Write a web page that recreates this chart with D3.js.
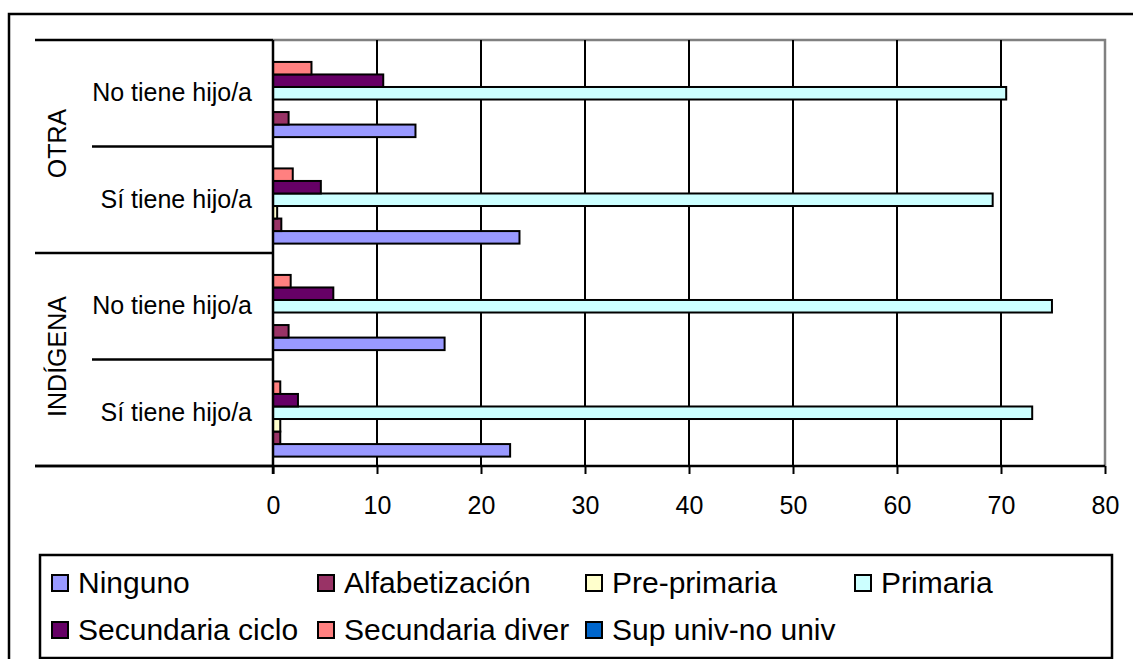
<!DOCTYPE html>
<html lang="es">
<head>
    <meta charset="UTF-8">
    <title>Nivel educativo por etnia y maternidad</title>
    <script src="https://d3js.org/d3.v7.min.js"></script>
    <style>
        body { margin: 0; background: #fff; }
        svg { display: block; font-family: "Liberation Sans", Arial, sans-serif; }
        .grid line { stroke: #000; stroke-width: 2; }
        .bar { stroke: #000; stroke-width: 2; }
        .cat-label { font-size: 25px; fill: #000; }
        .tick-label { font-size: 25px; fill: #000; }
        .legend-label { font-size: 30px; fill: #000; }
    </style>
</head>
<body>
<svg width="1133" height="659"></svg>
<script>
    // filas de arriba hacia abajo
    const groups = ["OTRA", "INDÍGENA"];
    const subcats = ["No tiene hijo/a", "Sí tiene hijo/a"];
    const rows = ["OTRA|No tiene hijo/a", "OTRA|Sí tiene hijo/a", "INDÍGENA|No tiene hijo/a", "INDÍGENA|Sí tiene hijo/a"];

    const series = ["Ninguno", "Alfabetización", "Pre-primaria", "Primaria", "Secundaria ciclo", "Secundaria diver", "Sup univ-no univ"];
    const colors = ["#9999FF", "#993366", "#FFFFCC", "#CCFFFF", "#660066", "#FF8080", "#0066CC"];

    // valores por serie, en el orden de rows
    const ninguno      = [13.7, 23.7, 16.5, 22.8];
    const alfabet      = [1.5, 0.8, 1.5, 0.7];
    const preprimaria  = [0, 0.4, 0, 0.7];
    const primaria     = [70.5, 69.2, 74.9, 73.0];
    const secCiclo     = [10.6, 4.6, 5.8, 2.4];
    const secDiver     = [3.7, 1.9, 1.7, 0.7];
    const supUniv      = [0, 0, 0, 0];

    const xTicks = [0, 10, 20, 30, 40, 50, 60, 70, 80];

    const values = [ninguno, alfabet, preprimaria, primaria, secCiclo, secDiver, supUniv];

    const svg = d3.select("svg");

    const plot = {left: 273, right: 1105, top: 40, bottom: 466};

    const x = d3.scaleLinear().domain([0, 80]).range([plot.left, plot.right]);
    const y = d3.scaleBand().domain(rows).range([plot.top, plot.bottom]);
    const yInner = d3.scaleBand()
        .domain(series.slice().reverse())
        .range([0, y.bandwidth()])
        .paddingInner(0)
        .paddingOuter(0.75);

    // marco exterior
    svg.append("rect")
        .attr("x", 9).attr("y", 14)
        .attr("width", 1140).attr("height", 700)
        .attr("fill", "none").attr("stroke", "#000").attr("stroke-width", 2.5);

    // borde del area de trazado
    svg.append("path")
        .attr("d", `M${plot.left},${plot.top}H${plot.right}V${plot.bottom}`)
        .attr("fill", "none").attr("stroke", "#808080").attr("stroke-width", 2.5);

    // lineas de cuadricula
    svg.append("g").attr("class", "grid")
        .selectAll("line")
        .data(xTicks.slice(1, -1))
        .enter().append("line")
        .attr("x1", d => x(d)).attr("x2", d => x(d))
        .attr("y1", plot.top).attr("y2", plot.bottom);

    // barras
    const rowData = rows.map((r, i) => ({
        row: r,
        bars: series.map((s, j) => ({ s: s, v: values[j][i], c: colors[j] }))
    }));

    svg.append("g")
        .selectAll("g")
        .data(rowData)
        .enter().append("g")
        .attr("transform", d => `translate(0,${y(d.row)})`)
        .selectAll("rect")
        .data(d => d.bars.filter(b => b.v > 0))
        .enter().append("rect")
        .attr("class", "bar")
        .attr("x", x(0))
        .attr("y", b => yInner(b.s))
        .attr("width", b => x(b.v) - x(0))
        .attr("height", yInner.bandwidth())
        .attr("fill", b => b.c);

    // eje X
    const xAxis = svg.append("g")
        .attr("transform", `translate(0,${plot.bottom})`)
        .call(d3.axisBottom(x).tickValues(xTicks).tickSize(8).tickPadding(22));
    xAxis.select(".domain").remove();
    xAxis.selectAll(".tick line").attr("stroke", "#000").attr("stroke-width", 2);
    xAxis.selectAll(".tick text").attr("class", "tick-label").attr("font-size", null).attr("font-family", null);

    svg.append("line")
        .attr("x1", 35).attr("x2", plot.right)
        .attr("y1", plot.bottom).attr("y2", plot.bottom)
        .attr("stroke", "#000").attr("stroke-width", 2.5);

    // eje Y y categorias
    svg.append("line")
        .attr("x1", plot.left).attr("x2", plot.left)
        .attr("y1", plot.top).attr("y2", plot.bottom + 8)
        .attr("stroke", "#000").attr("stroke-width", 2.5);

    // separadores de grupo
    const groupEdges = [plot.top, y(rows[2]), plot.bottom];
    svg.append("g").selectAll("line")
        .data(groupEdges)
        .enter().append("line")
        .attr("x1", 35).attr("x2", plot.left)
        .attr("y1", d => d).attr("y2", d => d)
        .attr("stroke", "#000").attr("stroke-width", 2.5);

    // separadores de subcategoria
    svg.append("g").selectAll("line")
        .data([rows[1], rows[3]])
        .enter().append("line")
        .attr("x1", 92).attr("x2", plot.left)
        .attr("y1", d => y(d)).attr("y2", d => y(d))
        .attr("stroke", "#000").attr("stroke-width", 2.5);

    svg.append("g").selectAll("text")
        .data(rows)
        .enter().append("text")
        .attr("class", "cat-label")
        .attr("x", 252)
        .attr("y", d => y(d) + y.bandwidth() / 2 + 8)
        .attr("text-anchor", "end")
        .text(d => d.split("|")[1]);

    svg.append("g").selectAll("text")
        .data(groups)
        .enter().append("text")
        .attr("class", "cat-label")
        .attr("transform", (g, i) => {
            const cy = y(rows[i * 2]) + y.bandwidth() - 3;
            return `translate(66,${cy}) rotate(-90)`;
        })
        .attr("text-anchor", "middle")
        .text(d => d);

    // leyenda
    svg.append("rect")
        .attr("x", 40).attr("y", 555)
        .attr("width", 1072).attr("height", 103)
        .attr("fill", "#fff").attr("stroke", "#000").attr("stroke-width", 2.5);

    const legendCols = [52, 318, 586, 855];
    const legendRows = [583, 630];

    const legend = svg.append("g")
        .selectAll("g")
        .data(series)
        .enter().append("g")
        .attr("transform", (d, i) => `translate(${legendCols[i % 4]},${legendRows[Math.floor(i / 4)]})`);

    legend.append("rect")
        .attr("x", 0).attr("y", -8)
        .attr("width", 16).attr("height", 16)
        .attr("fill", (d, i) => colors[i])
        .attr("stroke", "#000").attr("stroke-width", 2);

    legend.append("text")
        .attr("class", "legend-label")
        .attr("x", 26).attr("y", 10)
        .text(d => d);
</script>
</body>
</html>
